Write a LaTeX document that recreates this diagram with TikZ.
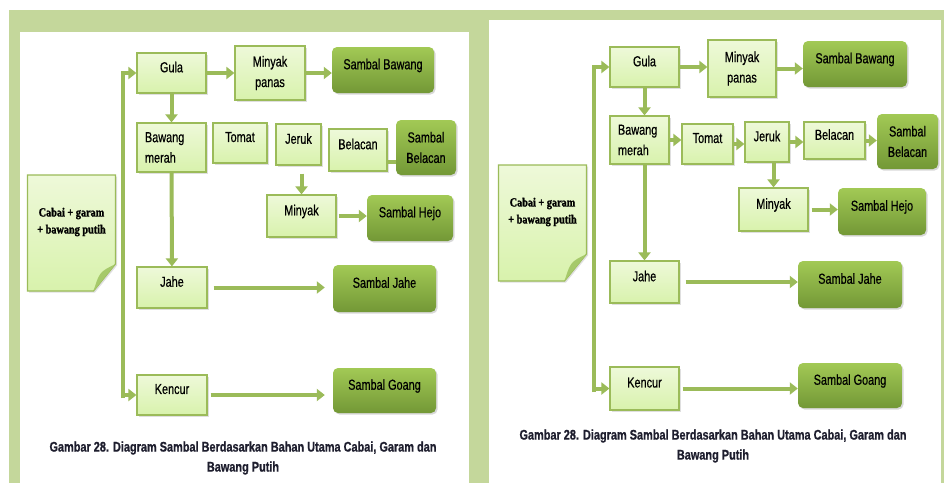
\documentclass[tikz,border=0pt]{standalone}
\usepackage{fontspec}
\setmainfont{Liberation Sans}[FakeStretch=0.75,FakeBold=0.5]
\newfontfamily\cabaifont{Liberation Serif}[FakeStretch=0.82,FakeBold=1.5]
\newfontfamily\judulfont{Liberation Sans}[FakeStretch=0.78,FakeBold=0.8]
\usetikzlibrary{arrows.meta,shadows,calc}
\pgfdeclarelayer{background}
\pgfsetlayers{background,main}
\definecolor{bingkai}{HTML}{C4D79B}
\definecolor{garis}{HTML}{9BBB59}
\definecolor{mudaA}{HTML}{EEF9D9}
\definecolor{mudaB}{HTML}{D8F2AC}
\definecolor{tuaA}{HTML}{A2C955}
\definecolor{tuaB}{HTML}{739836}
\definecolor{lipat}{HTML}{A6C96A}
\definecolor{tinta}{HTML}{1E1E2E}
\begin{document}
\begin{tikzpicture}[x=1pt,y=-1pt,
	kotak/.style={rectangle, draw=garis, line width=1.2pt, top color=mudaA, bottom color=mudaB, inner sep=0pt,
		drop shadow={shadow xshift=1.5pt, shadow yshift=-1.5pt, opacity=0.25}, font=\fontsize{14.5}{20.5}\selectfont},
	bahan/.style={kotak, text depth=12pt},
	tua/.style={rectangle, rounded corners=5pt, top color=tuaA, bottom color=tuaB, inner sep=0pt,
		drop shadow={shadow xshift=1.5pt, shadow yshift=-1.5pt, opacity=0.3}, font=\fontsize{14.5}{20.5}\selectfont},
	sambal/.style={tua, text depth=12pt},
	cabai/.style={align=center, font=\cabaifont\bfseries\fontsize{12.5}{17}\selectfont},
	cabaikotak/.style={draw=garis, line width=1.2pt, top color=mudaA, bottom color=mudaB,
		drop shadow={shadow xshift=1.5pt, shadow yshift=-1.5pt, opacity=0.25}},
	judul/.style={align=center, text=tinta, font=\judulfont\bfseries\fontsize{14}{20}\selectfont},
	panah/.style={line width=4pt, color=garis, -{Triangle[length=8pt,width=12pt]}}]

	\useasboundingbox (0,0) rectangle (944,483);
	\begin{pgfonlayer}{background}
	\fill[bingkai] (9,10) rectangle (944,483);
	\fill[white] (20,32) rectangle (469,483);
	\fill[white] (489,20) rectangle (941,483);
	\end{pgfonlayer}

	% panel kiri
	\node[bahan, minimum width=69, minimum height=40] (Lgula) at (171.5,73) {Gula};
	\node[kotak, align=center, minimum width=70, minimum height=54] (Lminyakp) at (270,73) {Minyak\\panas};
	\node[sambal, minimum width=102, minimum height=46] (Lsbawang) at (383,70) {Sambal Bawang};
	\node[kotak, align=left, text width=53pt, minimum width=69, minimum height=49] (Lbmerah) at (171.5,147.5) {Bawang\\merah};
	\node[bahan, minimum width=54, minimum height=40] (Ltomat) at (240,143) {Tomat};
	\node[bahan, minimum width=45, minimum height=41] (Ljeruk) at (298.5,144.5) {Jeruk};
	\node[bahan, minimum width=58, minimum height=42] (Lbelacan) at (358,150) {Belacan};
	\node[tua, align=center, minimum width=60, minimum height=55] (Lsbelacan) at (426,147.5) {Sambal\\Belacan};
	\node[bahan, minimum width=69, minimum height=42] (Lminyak) at (301.5,216) {Minyak};
	\node[sambal, minimum width=86, minimum height=46] (Lshejo) at (410,218) {Sambal Hejo};
	\node[bahan, minimum width=70, minimum height=41] (Ljahe) at (172,287.5) {Jahe};
	\node[sambal, minimum width=103, minimum height=47] (Lsjahe) at (384.5,288.5) {Sambal Jahe};
	\node[bahan, minimum width=70, minimum height=40] (Lkencur) at (172,395) {Kencur};
	\node[sambal, minimum width=103, minimum height=45] (Lsgoang) at (384.5,390.5) {Sambal Goang};
	\node[cabai] (Lcabai) at (71.5,222) {Cabai + garam\\+ bawang putih};
	\coordinate (Lbawah) at (123,398);
	\node[judul] (Ljudul) at (243,458) {Gambar 28. Diagram Sambal Berdasarkan Bahan Utama Cabai, Garam dan\\Bawang Putih};

	% panel kanan
	\node[bahan, minimum width=69, minimum height=40] (Rgula) at (644.5,67) {Gula};
	\node[kotak, align=center, minimum width=68, minimum height=57] (Rminyakp) at (742,68.5) {Minyak\\panas};
	\node[sambal, minimum width=104, minimum height=46] (Rsbawang) at (855,64) {Sambal Bawang};
	\node[kotak, align=left, text width=43pt, minimum width=59, minimum height=48] (Rbmerah) at (639.5,140) {Bawang\\merah};
	\node[bahan, minimum width=51, minimum height=40] (Rtomat) at (707.5,144) {Tomat};
	\node[bahan, minimum width=44, minimum height=40] (Rjeruk) at (767,142) {Jeruk};
	\node[bahan, minimum width=61, minimum height=37] (Rbelacan) at (834.5,140.5) {Belacan};
	\node[tua, align=center, minimum width=61, minimum height=55] (Rsbelacan) at (907.5,141.5) {Sambal\\Belacan};
	\node[bahan, minimum width=69, minimum height=43] (Rminyak) at (773.5,209.5) {Minyak};
	\node[sambal, minimum width=88, minimum height=47] (Rshejo) at (882,211.5) {Sambal Hejo};
	\node[bahan, minimum width=69, minimum height=42] (Rjahe) at (644.5,282) {Jahe};
	\node[sambal, minimum width=104, minimum height=47] (Rsjahe) at (850,284.5) {Sambal Jahe};
	\node[bahan, minimum width=69, minimum height=43] (Rkencur) at (644.5,388.5) {Kencur};
	\node[sambal, minimum width=104, minimum height=45] (Rsgoang) at (850,385.5) {Sambal Goang};
	\node[cabai] (Rcabai) at (542.5,212) {Cabai + garam\\+ bawang putih};
	\coordinate (Rbawah) at (594,392);
	\node[judul] (Rjudul) at (713,446) {Gambar 28. Diagram Sambal Berdasarkan Bahan Utama Cabai, Garam dan\\Bawang Putih};

	% kertas cabai dengan sudut terlipat
	\begin{pgfonlayer}{background}
	\foreach \p in {L,R} {
		\path[cabaikotak] ($(\p cabai)+(-44,-47)$) -- ($(\p cabai)+(44,-47)$) -- ($(\p cabai)+(44,42)$)
			-- ($(\p cabai)+(22,69)$) -- ($(\p cabai)+(-44,69)$) -- cycle;
		\fill[lipat] ($(\p cabai)+(44,42)$) .. controls ($(\p cabai)+(28,50)$) .. ($(\p cabai)+(22,69)$) -- cycle;
	}
	\end{pgfonlayer}

	% panah kiri
	\path[draw,panah] (Lbawah) |- (Lgula);
	\path[draw,panah] (Lbawah |- Lkencur) -- (Lkencur);
	\path[draw,panah] (Lgula) -- (Lminyakp);
	\path[draw,panah] (Lminyakp.east) -- (Lminyakp.east -| Lsbawang.west);
	\path[draw,panah] (Lgula) -- (Lbmerah);
	\path[draw,panah] (Lbmerah) -- (Ljahe);
	\path[draw,line width=4pt,color=garis] ([yshift=-12pt]Lbelacan.east) -- ([yshift=-12pt]Lbelacan.east -| Lsbelacan.west);
	\path[draw,panah,shorten <=8pt] (Lminyak.north |- Ljeruk.south) -- (Lminyak.north);
	\path[draw,panah,shorten <=2pt] (Lminyak.east) -- (Lminyak.east -| Lshejo.west);
	\path[draw,panah,shorten <=6pt,shorten >=8pt] (Ljahe.east) -- (Ljahe.east -| Lsjahe.west);
	\path[draw,panah,shorten <=3pt,shorten >=8pt] (Lkencur.east) -- (Lkencur.east -| Lsgoang.west);

	% panah kanan
	\path[draw,panah] (Rbawah) |- (Rgula);
	\path[draw,panah] (Rbawah |- Rkencur) -- (Rkencur);
	\path[draw,panah] (Rgula.east) -- (Rgula.east -| Rminyakp.west);
	\path[draw,panah] (Rminyakp.east) -- (Rminyakp.east -| Rsbawang.west);
	\path[draw,panah] (Rgula.south) -- (Rgula.south |- Rbmerah.north);
	\path[draw,panah] (Rjahe.north |- Rbmerah.south) -- (Rjahe.north);
	\path[draw,panah] (Rbmerah.east) -- (Rbmerah.east -| Rtomat.west);
	\path[draw,panah] (Rtomat.east) -- (Rtomat.east -| Rjeruk.west);
	\path[draw,panah] (Rjeruk.east) -- (Rjeruk.east -| Rbelacan.west);
	\path[draw,panah] (Rbelacan.east) -- (Rbelacan.east -| Rsbelacan.west);
	\path[draw,panah] (Rminyak.north |- Rjeruk.south) -- (Rminyak.north);
	\path[draw,panah,shorten <=3pt] (Rminyak.east) -- (Rminyak.east -| Rshejo.west);
	\path[draw,panah,shorten <=6pt] (Rjahe.east) -- (Rjahe.east -| Rsjahe.west);
	\path[draw,panah,shorten <=3pt] (Rkencur.east) -- (Rkencur.east -| Rsgoang.west);
\end{tikzpicture}
\end{document}
